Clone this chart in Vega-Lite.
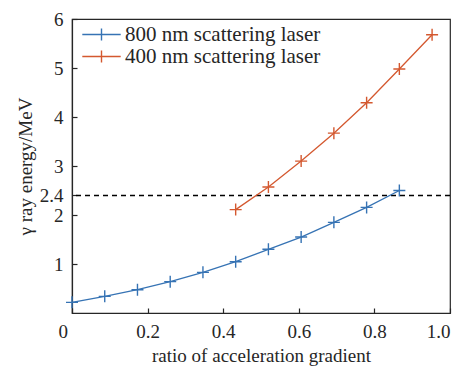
{
  "$schema": "https://vega.github.io/schema/vega-lite/v6.json",
  "width": 378,
  "height": 294,
  "autosize": {"type": "none"},
  "padding": {"left": 72, "top": 19, "right": 19, "bottom": 54},
  "background": "white",
  "config": {
    "font": "Liberation Serif, DejaVu Serif, serif",
    "view": {"stroke": "#262626", "strokeWidth": 1.2},
    "axis": {
      "domainColor": "#262626", "domainWidth": 1.2, "tickColor": "#262626", "tickWidth": 1.2,
      "labelFont": "Liberation Serif, DejaVu Serif, serif", "labelFontSize": 19, "labelColor": "#262626",
      "titleFont": "Liberation Serif, DejaVu Serif, serif", "titleFontSize": 19, "titleColor": "#262626", "titleFontWeight": "normal",
      "grid": false, "tickSize": -5, "labelOverlap": false
    }
  },
  "datasets": {
    "series": [
      {"ratio": 0.0, "energy": 0.217, "laser": "800 nm scattering laser"},
      {"ratio": 0.0866, "energy": 0.34, "laser": "800 nm scattering laser"},
      {"ratio": 0.1732, "energy": 0.476, "laser": "800 nm scattering laser"},
      {"ratio": 0.2598, "energy": 0.64, "laser": "800 nm scattering laser"},
      {"ratio": 0.3464, "energy": 0.83, "laser": "800 nm scattering laser"},
      {"ratio": 0.433, "energy": 1.047, "laser": "800 nm scattering laser"},
      {"ratio": 0.5196, "energy": 1.3, "laser": "800 nm scattering laser"},
      {"ratio": 0.6062, "energy": 1.55, "laser": "800 nm scattering laser"},
      {"ratio": 0.6928, "energy": 1.85, "laser": "800 nm scattering laser"},
      {"ratio": 0.7794, "energy": 2.155, "laser": "800 nm scattering laser"},
      {"ratio": 0.866, "energy": 2.5, "laser": "800 nm scattering laser"},
      {"ratio": 0.433, "energy": 2.11, "laser": "400 nm scattering laser"},
      {"ratio": 0.5196, "energy": 2.57, "laser": "400 nm scattering laser"},
      {"ratio": 0.6062, "energy": 3.1, "laser": "400 nm scattering laser"},
      {"ratio": 0.6928, "energy": 3.67, "laser": "400 nm scattering laser"},
      {"ratio": 0.7794, "energy": 4.29, "laser": "400 nm scattering laser"},
      {"ratio": 0.866, "energy": 4.98, "laser": "400 nm scattering laser"},
      {"ratio": 0.9526, "energy": 5.68, "laser": "400 nm scattering laser"}
    ],
    "threshold": [{"energy": 2.4}]
  },
  "layer": [
    {
      "data": {"name": "threshold"},
      "mark": {"type": "rule", "color": "#000000", "strokeWidth": 1.5, "strokeDash": [5, 4]},
      "encoding": {"y": {"field": "energy", "type": "quantitative", "scale": {"domain": [0, 6]}}}
    },
    {
      "data": {"name": "series"},
      "mark": {"type": "line", "strokeWidth": 1.3},
      "encoding": {
        "x": {"field": "ratio", "type": "quantitative"},
        "y": {"field": "energy", "type": "quantitative"},
        "color": {"field": "laser", "type": "nominal"}
      }
    },
    {
      "data": {"name": "series"},
      "mark": {"type": "point", "shape": "M-1,0L1,0M0,-1L0,1", "size": 144, "filled": false, "strokeWidth": 1.4, "opacity": 1},
      "encoding": {
        "x": {
          "field": "ratio", "type": "quantitative",
          "scale": {"domain": [0, 1], "nice": false},
          "axis": {
            "values": [0, 0.2, 0.4, 0.6, 0.8, 1.0],
            "labelExpr": "datum.value == 0 ? '0' : format(datum.value, '.1f')",
            "labelPadding": 14,
            "labelOffset": {"condition": {"test": "datum.value == 0", "value": -14}, "value": 0},
            "title": "ratio of acceleration gradient",
            "titlePadding": 5
          }
        },
        "y": {
          "field": "energy", "type": "quantitative",
          "scale": {"domain": [0, 6], "nice": false},
          "axis": {
            "values": [1, 2, 2.4, 3, 4, 5, 6],
            "labelExpr": "datum.value == 2.4 ? '2.4' : format(datum.value, 'd')",
            "labelPadding": 14,
            "title": "γ ray energy/MeV",
            "titlePadding": 4
          }
        },
        "color": {
          "field": "laser", "type": "nominal",
          "scale": {"domain": ["800 nm scattering laser", "400 nm scattering laser"], "range": ["#3673b4", "#d4582f"]},
          "legend": {
            "title": null,
            "orient": "none",
            "legendX": 19,
            "legendY": 5,
            "padding": 0,
            "rowPadding": 0,
            "symbolType": "M-3.2,0L3.2,0M0,-1L0,1",
            "symbolSize": 144,
            "symbolStrokeWidth": 1.4,
            "symbolFillColor": "transparent",
            "labelFont": "Liberation Serif, DejaVu Serif, serif",
            "labelFontSize": 21,
            "labelLimit": 400,
            "labelColor": "#262626",
            "labelOffset": 13
          }
        }
      }
    }
  ]
}
